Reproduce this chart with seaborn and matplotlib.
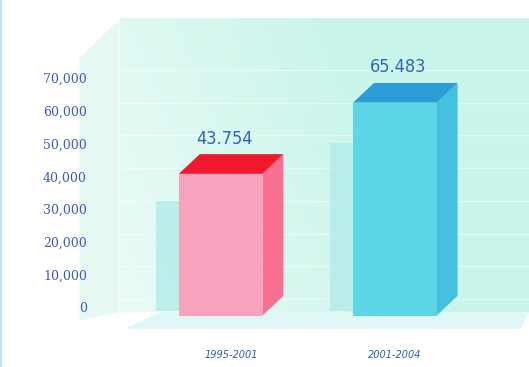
import numpy as np
import pandas as pd
import seaborn as sns
import matplotlib.pyplot as plt
from matplotlib.patches import Polygon, Rectangle

# data
periods = ['1995-2001', '2001-2004']
totals = [43754, 65483]
value_labels = ['43.754', '65.483']
yticks = [0, 10000, 20000, 30000, 40000, 50000, 60000, 70000]

front_cols = ['#f7a3bd', '#5dd6e8']
side_cols = ['#f7708f', '#45c0df']
top_cols = ['#f0182c', '#2c9dd6']

sns.set_theme(style='white')
plt.rcParams['font.family'] = ['DejaVu Sans']

fig = plt.figure(figsize=(5.29, 3.67), dpi=100)
ax = fig.add_axes([0.18, 0.10, 0.82, 0.875])

df = pd.DataFrame({'period': periods, 'total': totals})
sns.barplot(data=df, x='period', y='total', hue='period', palette=front_cols,
            width=0.48, legend=False, ax=ax, zorder=4, saturation=1)

xlim = (-0.72, 1.77)
ylim = (-7000, 91000)
ax.set_xlim(*xlim)
ax.set_ylim(*ylim)

# background gradient (mint box, fading to white on the left)
nx, ny = 200, 100
gx = np.linspace(0, 1, nx)[None, :]
gy = np.linspace(1, 0, ny)[:, None]
img = np.zeros((ny, nx, 4))
img[..., 0] = 0.77
img[..., 1] = 0.96
img[..., 2] = 0.91
img[..., 3] = np.clip(0.35 + 0.7 * gx + 0.2 * gy, 0, 0.9)
wall_left = -0.58
wall_top = 88000
ax.imshow(img, extent=(wall_left, xlim[1], -1500, wall_top), aspect='auto', zorder=0,
          interpolation='bilinear')

# left wall of the box
ax.add_patch(Polygon([(wall_left, wall_top), (-0.81, wall_top - 12000), (-0.81, -4000), (wall_left, -1500)],
                     closed=True, color='#dff7ef', alpha=0.7, lw=0, zorder=0, clip_on=False))

# faint horizontal lines on the back wall
for t in yticks:
    ax.plot([wall_left, xlim[1]], [t + 2500, t + 2500], color='white', lw=1.0, alpha=0.5, zorder=1)

# floor
floor = Polygon([(-0.55, -6500), (1.72, -6500), (1.77, -1500), (-0.35, -1500)],
                closed=True, color='#d6f6f6', alpha=0.8, zorder=1, lw=0)
ax.add_patch(floor)

dx = 0.12
dy = 6000
base = -2500
bars = [q for q in ax.patches if isinstance(q, Rectangle)][:2]
for i, p in enumerate(bars):
    x0 = p.get_x()
    w = p.get_width()
    v = totals[i]
    front_top = v - dy / 2
    p.set_y(base)
    p.set_height(front_top - base)
    p.set_edgecolor('none')
    # shadow behind bar
    ax.add_patch(Rectangle((x0 - 0.13, base + 1500), 0.2, front_top * 0.82,
                           color='#b4ebe8', alpha=0.8, zorder=2, lw=0))
    # side face
    ax.add_patch(Polygon([(x0 + w, base), (x0 + w + dx, base + dy), (x0 + w + dx, front_top + dy),
                          (x0 + w, front_top)], closed=True, color=side_cols[i], zorder=4, lw=0))
    # top face
    ax.add_patch(Polygon([(x0, front_top), (x0 + w, front_top), (x0 + w + dx, front_top + dy),
                          (x0 + dx, front_top + dy)], closed=True, color=top_cols[i], zorder=4, lw=0))
    ax.text(x0 + w / 2 + 0.02, front_top + dy + 2000, value_labels[i], ha='center', va='bottom',
            fontsize=13, color='#2f62c0', zorder=5, fontstretch='condensed')

ax.set_yticks(yticks)
ax.set_yticklabels([f'{t:,}' for t in yticks], fontsize=9, color='#3a5cbf', family='DejaVu Serif')
ax.tick_params(axis='y', length=0, pad=6)
ax.tick_params(axis='x', length=0, pad=14)
ax.set_xticks([0.06, 1.0])
ax.set_xticklabels(periods, fontsize=7, color='#2f5ab8', style='italic')
ax.set_xlabel('')
ax.set_ylabel('')
ax.set_facecolor('white')
for s in ax.spines.values():
    s.set_visible(False)

fig.add_artist(plt.Line2D([0.002, 0.002], [0, 1], color='#bfe3f5', lw=1.5))

fig.savefig('out.png', dpi=100)
